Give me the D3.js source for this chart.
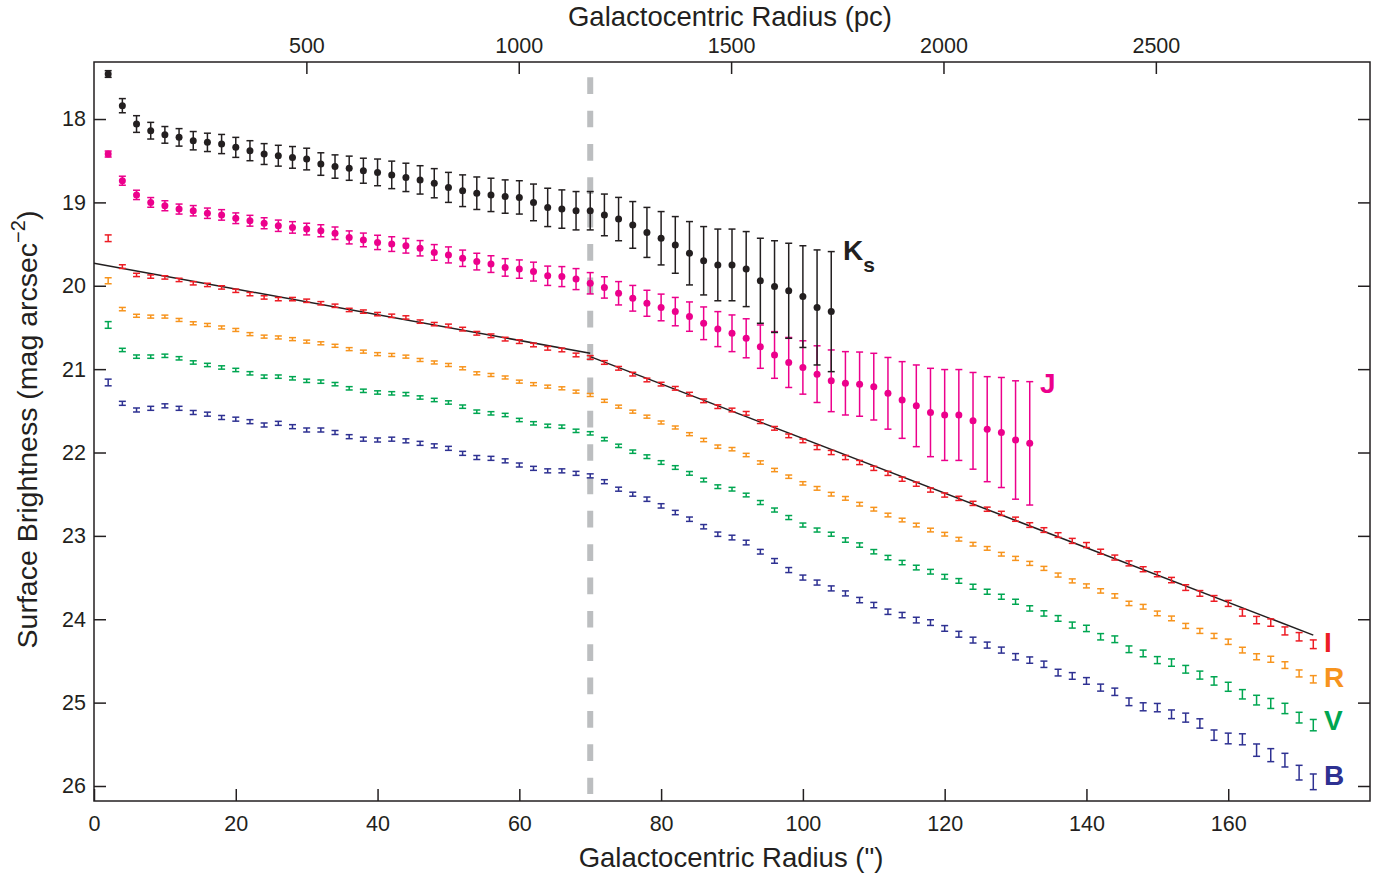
<!DOCTYPE html>
<html>
<head>
<meta charset="utf-8">
<script src="https://cdn.jsdelivr.net/npm/d3@7/dist/d3.min.js"></script>
<style>
  html, body { margin: 0; padding: 0; background: #fff; }
  svg { display: block; font-family: "Liberation Sans", Arial, Helvetica, sans-serif; }
</style>
</head>
<body>
<svg id="chart" width="1383" height="879"></svg>
<script>
// Galactocentric radius of each annulus (arcsec)
const radius = [2,4,6,8,10,12,14,16,18,20,22,24,26,28,30,32,34,36,38,40,42,44,
  46,48,50,52,54,56,58,60,62,64,66,68,70,72,74,76,78,80,82,84,86,88,
  90,92,94,96,98,100,102,104,106,108,110,112,114,116,118,120,122,124,126,128,130,
  132,134,136,138,140,142,144,146,148,150,152,154,156,158,160,162,164,166,168,170,172];

// Surface brightness (mag arcsec^-2) and 1-sigma errors per band
const ksMag = [17.46,17.84,18.06,18.14,18.19,18.22,18.26,18.28,18.30,18.34,18.38,18.42,18.44,18.46,18.48,18.54,18.57,18.59,18.62,18.64,18.67,18.70,
  18.73,18.77,18.82,18.86,18.89,18.91,18.93,18.94,19.00,19.06,19.08,19.10,19.10,19.15,19.20,19.27,19.36,19.43,19.51,19.61,19.70,19.75,
  19.75,19.80,19.94,20.01,20.06,20.13,20.26,20.31];
const ksErr = [0.04,0.085,0.10,0.10,0.10,0.105,0.11,0.11,0.115,0.12,0.12,0.125,0.125,0.13,0.13,0.135,0.14,0.145,0.15,0.16,0.165,0.17,
  0.17,0.175,0.18,0.19,0.195,0.20,0.20,0.20,0.22,0.23,0.23,0.23,0.23,0.25,0.26,0.28,0.30,0.32,0.34,0.38,0.41,0.43,
  0.43,0.45,0.51,0.55,0.57,0.61,0.69,0.72];

const jMag = [18.42,18.74,18.91,19.00,19.04,19.08,19.10,19.13,19.15,19.19,19.22,19.25,19.28,19.30,19.32,19.34,19.37,19.42,19.45,19.48,19.50,19.52,
  19.55,19.60,19.63,19.67,19.71,19.74,19.78,19.80,19.83,19.88,19.89,19.92,19.97,20.02,20.09,20.15,20.21,20.26,20.31,20.37,20.45,20.52,
  20.57,20.63,20.73,20.83,20.92,20.98,21.06,21.14,21.17,21.18,21.21,21.29,21.37,21.44,21.52,21.55,21.55,21.62,21.72,21.76,21.85,21.89];
const jErr = [0.036,0.054,0.056,0.058,0.06,0.06,0.062,0.062,0.063,0.064,0.065,0.066,0.068,0.069,0.07,0.072,0.075,0.078,0.082,0.086,0.088,0.088,
  0.092,0.094,0.096,0.098,0.10,0.10,0.105,0.11,0.113,0.116,0.12,0.126,0.128,0.128,0.14,0.154,0.156,0.16,0.17,0.176,0.196,0.21,
  0.22,0.234,0.26,0.28,0.30,0.32,0.34,0.37,0.38,0.385,0.40,0.43,0.46,0.49,0.53,0.545,0.545,0.58,0.63,0.66,0.71,0.74];

const iMag = [19.43,19.77,19.87,19.89,19.90,19.93,19.97,19.99,20.02,20.06,20.10,20.14,20.16,20.16,20.18,20.21,20.24,20.29,20.31,20.34,20.36,20.38,
  20.43,20.46,20.48,20.52,20.57,20.60,20.64,20.67,20.71,20.75,20.77,20.83,20.86,20.92,20.99,21.06,21.13,21.18,21.23,21.30,21.38,21.45,
  21.49,21.53,21.63,21.71,21.80,21.86,21.94,22.00,22.06,22.12,22.19,22.25,22.32,22.38,22.45,22.51,22.55,22.61,22.68,22.73,22.80,
  22.87,22.93,22.99,23.06,23.11,23.19,23.26,23.33,23.40,23.46,23.53,23.62,23.69,23.75,23.81,23.92,24.01,24.04,24.14,24.21,24.30];
const iErr = [0.04,0.022,0.02,0.02,0.02,0.02,0.02,0.02,0.02,0.02,0.02,0.02,0.02,0.02,0.02,0.02,0.02,0.02,0.02,0.02,0.02,0.02,
  0.02,0.02,0.02,0.022,0.022,0.022,0.022,0.022,0.022,0.022,0.022,0.022,0.022,0.022,0.022,0.022,0.022,0.022,0.022,0.022,0.022,0.022,
  0.022,0.022,0.022,0.022,0.022,0.022,0.025,0.025,0.025,0.025,0.025,0.025,0.025,0.025,0.025,0.025,0.025,0.025,0.025,0.025,0.025,
  0.028,0.028,0.028,0.03,0.03,0.03,0.03,0.03,0.03,0.03,0.032,0.034,0.034,0.034,0.036,0.042,0.044,0.044,0.048,0.05,0.052];

const rMag = [19.94,20.28,20.36,20.37,20.37,20.41,20.45,20.47,20.50,20.53,20.58,20.61,20.62,20.64,20.67,20.69,20.72,20.76,20.79,20.82,20.83,20.85,
  20.89,20.92,20.95,20.99,21.05,21.07,21.10,21.15,21.18,21.21,21.23,21.27,21.31,21.38,21.45,21.51,21.57,21.64,21.70,21.78,21.85,21.93,
  21.96,22.03,22.12,22.21,22.29,22.37,22.43,22.50,22.55,22.62,22.68,22.75,22.81,22.87,22.93,22.98,23.04,23.10,23.15,23.22,23.27,
  23.33,23.39,23.47,23.54,23.60,23.66,23.72,23.81,23.85,23.93,23.99,24.08,24.14,24.20,24.27,24.37,24.45,24.48,24.55,24.65,24.72];
const rErr = [0.036,0.02,0.018,0.018,0.018,0.018,0.018,0.018,0.018,0.018,0.018,0.018,0.018,0.018,0.018,0.018,0.018,0.018,0.018,0.018,0.018,0.018,
  0.018,0.018,0.018,0.018,0.018,0.018,0.018,0.018,0.018,0.018,0.018,0.018,0.018,0.018,0.018,0.018,0.018,0.018,0.018,0.018,0.02,0.02,
  0.02,0.02,0.02,0.02,0.02,0.02,0.022,0.022,0.022,0.022,0.022,0.022,0.022,0.022,0.022,0.022,0.022,0.022,0.022,0.022,0.024,
  0.024,0.024,0.024,0.024,0.024,0.026,0.026,0.026,0.028,0.028,0.028,0.03,0.03,0.03,0.032,0.034,0.036,0.036,0.04,0.042,0.044];

const vMag = [20.47,20.77,20.85,20.85,20.84,20.87,20.92,20.95,20.98,21.01,21.05,21.09,21.09,21.11,21.14,21.15,21.18,21.23,21.26,21.28,21.29,21.30,
  21.34,21.37,21.40,21.45,21.51,21.53,21.55,21.61,21.65,21.68,21.69,21.74,21.77,21.84,21.92,21.99,22.05,22.12,22.18,22.25,22.33,22.41,
  22.44,22.51,22.60,22.69,22.78,22.87,22.93,22.98,23.05,23.11,23.19,23.26,23.32,23.38,23.43,23.49,23.54,23.61,23.67,23.73,23.79,
  23.87,23.93,23.99,24.07,24.11,24.21,24.24,24.36,24.41,24.49,24.52,24.60,24.67,24.74,24.81,24.90,24.97,25.01,25.07,25.18,25.27];
const vErr = [0.04,0.02,0.02,0.02,0.02,0.02,0.02,0.02,0.02,0.02,0.02,0.02,0.02,0.02,0.02,0.02,0.02,0.02,0.02,0.02,0.02,0.02,
  0.02,0.02,0.02,0.02,0.02,0.02,0.02,0.02,0.02,0.02,0.02,0.02,0.02,0.02,0.02,0.02,0.022,0.022,0.022,0.022,0.022,0.022,
  0.022,0.022,0.024,0.024,0.024,0.024,0.024,0.024,0.026,0.026,0.026,0.026,0.026,0.028,0.028,0.028,0.028,0.03,0.03,0.03,0.03,
  0.032,0.032,0.034,0.036,0.038,0.038,0.04,0.04,0.04,0.042,0.044,0.046,0.048,0.05,0.054,0.056,0.058,0.06,0.062,0.064,0.068];

const bMag = [21.16,21.41,21.49,21.47,21.44,21.47,21.52,21.54,21.58,21.60,21.63,21.67,21.65,21.69,21.73,21.73,21.76,21.81,21.84,21.85,21.84,21.86,
  21.89,21.92,21.95,22.01,22.06,22.07,22.10,22.15,22.19,22.22,22.22,22.25,22.28,22.35,22.44,22.50,22.56,22.64,22.72,22.80,22.89,22.98,
  23.02,23.08,23.19,23.30,23.41,23.50,23.56,23.63,23.69,23.77,23.83,23.91,23.95,24.01,24.04,24.11,24.18,24.25,24.31,24.37,24.45,
  24.49,24.54,24.64,24.68,24.74,24.82,24.87,24.99,25.05,25.06,25.14,25.18,25.25,25.39,25.43,25.44,25.57,25.63,25.69,25.84,25.95];
const bErr = [0.04,0.024,0.024,0.024,0.024,0.024,0.024,0.024,0.024,0.024,0.024,0.024,0.024,0.024,0.024,0.024,0.024,0.024,0.024,0.024,0.024,0.024,
  0.024,0.024,0.024,0.024,0.024,0.024,0.024,0.024,0.024,0.024,0.024,0.024,0.024,0.024,0.024,0.024,0.026,0.026,0.026,0.026,0.026,0.026,
  0.028,0.028,0.028,0.028,0.03,0.03,0.03,0.03,0.03,0.032,0.032,0.032,0.032,0.034,0.034,0.034,0.035,0.035,0.036,0.036,0.038,
  0.038,0.038,0.04,0.04,0.04,0.042,0.044,0.046,0.048,0.05,0.052,0.054,0.056,0.062,0.064,0.066,0.074,0.078,0.082,0.088,0.094];

// Two-component exponential fits to the I-band profile (inner disk, outer disk)
const fitInner = [[0, 19.73], [70, 20.81]];
const fitOuter = [[70, 20.85], [172, 24.19]];
const breakRadius = 70;

// Axis ticks
const xTicks = [0, 20, 40, 60, 80, 100, 120, 140, 160];
const pcTicks = [500, 1000, 1500, 2000, 2500];
const yTicks = [18, 19, 20, 21, 22, 23, 24, 25, 26];
const pcPerArcsec = 16.69;

const bands = [
  { name: "Ks", mag: ksMag, err: ksErr, color: "#231f20", dots: true },
  { name: "J",  mag: jMag,  err: jErr,  color: "#ec008c", dots: true },
  { name: "I",  mag: iMag,  err: iErr,  color: "#ed1c24", dots: false },
  { name: "R",  mag: rMag,  err: rErr,  color: "#f7941d", dots: false },
  { name: "V",  mag: vMag,  err: vErr,  color: "#00a651", dots: false },
  { name: "B",  mag: bMag,  err: bErr,  color: "#2e3192", dots: false }
];

const svg = d3.select("#chart");
const M = { left: 94, right: 1370, top: 62, bottom: 801 };

const x = d3.scaleLinear().domain([0, 180]).range([M.left, M.right]);
const xpc = d3.scaleLinear().domain([0, 180 * pcPerArcsec]).range([M.left, M.right]);
const y = d3.scaleLinear().domain([17.316, 26.18]).range([M.top, M.bottom]);

// Break radius marker
svg.append("line")
  .attr("x1", x(breakRadius)).attr("x2", x(breakRadius))
  .attr("y1", 77.3).attr("y2", 794)
  .attr("stroke", "#bcbec0").attr("stroke-width", 6)
  .attr("stroke-dasharray", "16.7,16.65");

// Exponential fits
const line = d3.line().x(d => x(d[0])).y(d => y(d[1]));
[fitInner, fitOuter].forEach(seg => {
  svg.append("path").attr("d", line(seg))
    .attr("fill", "none").attr("stroke", "#231f20").attr("stroke-width", 1.5);
});

// Error bars and points
const cap = 3.5;
bands.slice().reverse().forEach(b => {
  const g = svg.append("g").attr("stroke", b.color).attr("fill", b.color);
  const pts = b.mag.map((m, i) => ({ r: radius[i], m, e: b.err[i] }));
  const sel = g.selectAll("g.pt").data(pts).join("g").attr("class", "pt");
  sel.append("line")
    .attr("x1", d => x(d.r)).attr("x2", d => x(d.r))
    .attr("y1", d => y(d.m - d.e)).attr("y2", d => y(d.m + d.e))
    .attr("stroke-width", 1.5);
  sel.append("line")
    .attr("x1", d => x(d.r) - cap).attr("x2", d => x(d.r) + cap)
    .attr("y1", d => y(d.m - d.e)).attr("y2", d => y(d.m - d.e))
    .attr("stroke-width", 1.5);
  sel.append("line")
    .attr("x1", d => x(d.r) - cap).attr("x2", d => x(d.r) + cap)
    .attr("y1", d => y(d.m + d.e)).attr("y2", d => y(d.m + d.e))
    .attr("stroke-width", 1.5);
  if (b.dots) {
    sel.append("circle")
      .attr("cx", d => x(d.r)).attr("cy", d => y(d.m))
      .attr("r", 3.5).attr("stroke", "none");
  }
});

// Axes with inward ticks
const tickFont = g => g.selectAll("text")
  .attr("font-size", 21.5).attr("fill", "#231f20")
  .attr("font-family", "'Liberation Sans', Arial, sans-serif");
const styleAxis = g => {
  g.select(".domain").remove();
  g.selectAll(".tick line").attr("stroke", "#231f20").attr("stroke-width", 1.5);
  tickFont(g);
};

svg.append("g").attr("transform", `translate(0,${M.bottom})`)
  .call(d3.axisBottom(x).tickValues(xTicks).tickSize(-12).tickPadding(15).tickFormat(d3.format("d")))
  .call(styleAxis);
svg.append("g").attr("transform", `translate(0,${M.top})`)
  .call(d3.axisTop(xpc).tickValues(pcTicks).tickSize(-12).tickPadding(9).tickFormat(d3.format("d")))
  .call(styleAxis);
svg.append("g").attr("transform", `translate(${M.left},0)`)
  .call(d3.axisLeft(y).tickValues(yTicks).tickSize(-12).tickPadding(8).tickFormat(d3.format("d")))
  .call(styleAxis);
svg.append("g").attr("transform", `translate(${M.right},0)`)
  .call(d3.axisRight(y).tickValues(yTicks).tickSize(-12).tickFormat(""))
  .call(styleAxis);

// Frame
svg.append("rect")
  .attr("x", M.left).attr("y", M.top)
  .attr("width", M.right - M.left).attr("height", M.bottom - M.top)
  .attr("fill", "none").attr("stroke", "#231f20").attr("stroke-width", 1.5);

// Axis titles
const cx = (M.left + M.right) / 2;
svg.append("text").attr("x", cx - 2).attr("y", 26)
  .attr("text-anchor", "middle").attr("font-size", 27.5).attr("fill", "#231f20")
  .text("Galactocentric Radius (pc)");
svg.append("text").attr("x", cx - 1).attr("y", 867)
  .attr("text-anchor", "middle").attr("font-size", 27.5).attr("fill", "#231f20")
  .text("Galactocentric Radius (\")");
const yt = svg.append("text")
  .attr("transform", `translate(37,${(M.top + M.bottom) / 2 - 2}) rotate(-90)`)
  .attr("text-anchor", "middle").attr("font-size", 28.5).attr("fill", "#231f20");
yt.append("tspan").text("Surface Brightness (mag arcsec");
yt.append("tspan").attr("font-size", 20).attr("dy", -12).text("\u22122");
yt.append("tspan").attr("dy", 12).text(")");

// Band labels
const lbl = (txt, px, py, color) => svg.append("text")
  .attr("x", px).attr("y", py).attr("font-size", 28).attr("font-weight", "bold")
  .attr("fill", color).text(txt);
const ks = lbl("K", 843, 260, "#231f20");
ks.append("tspan").attr("font-size", 21).attr("dy", 12).text("s");
lbl("J", 1040, 393, "#ec008c");
lbl("I", 1324, 652, "#ed1c24");
lbl("R", 1324, 687, "#f7941d");
lbl("V", 1324, 730, "#00a651");
lbl("B", 1324, 785, "#2e3192");
</script>
</body>
</html>
